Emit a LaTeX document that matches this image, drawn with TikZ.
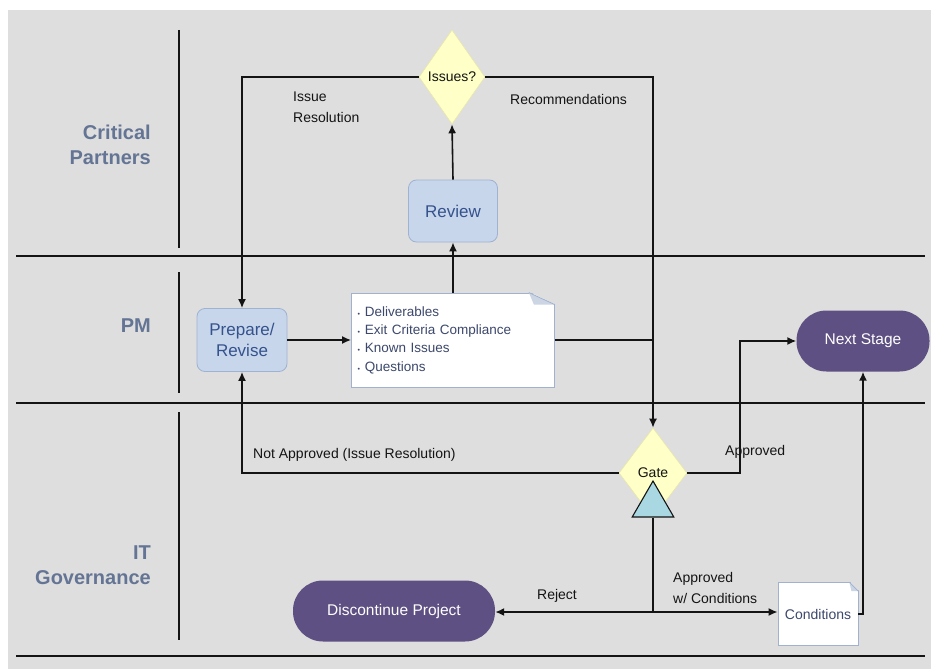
\documentclass[tikz,border=0pt]{standalone}
\usepackage{fontspec}
\setmainfont{Liberation Sans}
\usetikzlibrary{positioning,shapes.geometric,arrows.meta}
\definecolor{gvgrey}{RGB}{222,222,222}
\definecolor{gvlane}{RGB}{100,116,148}
\definecolor{gvboxfill}{RGB}{200,214,236}
\definecolor{gvboxedge}{RGB}{158,178,210}
\definecolor{gvboxtext}{RGB}{52,82,140}
\definecolor{gvyellow}{RGB}{255,255,200}
\definecolor{gvyedge}{RGB}{232,232,170}
\definecolor{gvpurple}{RGB}{94,80,130}
\definecolor{gvnoteedge}{RGB}{160,178,205}
\definecolor{gvnotetext}{RGB}{60,72,108}
\definecolor{gvcyan}{RGB}{170,216,226}
\definecolor{gvtext}{RGB}{20,20,20}

\begin{document}
\begin{tikzpicture}[
    x=1pt, y=-1pt,
    lane/.style={gvtext, line width=1.5pt},
    link/.style={gvtext, line width=1.6pt},
    flow/.style={gvtext, line width=1.6pt, -{Latex[length=9pt,width=8pt]}},
    task/.style={rectangle, rounded corners=8pt, fill=gvboxfill, draw=gvboxedge,
                 line width=0.8pt, text=gvboxtext, font=\fontsize{17}{21}\selectfont,
                 align=center, minimum width=89pt, minimum height=62pt, inner sep=2pt},
    decision/.style={diamond, fill=gvyellow, draw=gvyedge, line width=0.6pt,
                     inner sep=0pt, text=gvtext, font=\fontsize{14}{17}\selectfont},
    terminal/.style={rectangle, rounded corners=30pt, fill=gvpurple, text=white,
                     font=\fontsize{15.5}{18}\selectfont, minimum height=61pt},
    note/.style={rectangle, fill=white, draw=gvnoteedge, line width=0.8pt,
                 text=gvnotetext, align=left},
    gatetri/.style={regular polygon, regular polygon sides=3, fill=gvcyan,
                    draw=gvtext, line width=1.1pt, minimum size=48pt, inner sep=0pt},
    lanelbl/.style={gvlane, font=\fontsize{20}{25}\selectfont\bfseries,
                    align=right, anchor=east, inner sep=0pt},
    lbl/.style={gvtext, font=\fontsize{14}{21}\selectfont, align=left,
                anchor=west, inner sep=0pt},
  ]

  % ---- page and swim lanes ----------------------------------
  \useasboundingbox (0,0) rectangle (931,669);
  \fill[white]  (0,0)  rectangle (931,669);
  \fill[gvgrey] (8,10) rectangle (931,669);

  \draw[lane] (16,256) -- (925,256);
  \draw[lane] (16,403) -- (925,403);
  \draw[lane] (16,656) -- (925,656);
  \draw[lane] (179, 30) -- (179,248);
  \draw[lane] (179,272) -- (179,393);
  \draw[lane] (179,412) -- (179,640);

  \node[lanelbl] (lnCP) at (151,145) {Critical\\Partners};
  \node[lanelbl] (lnPM) at (151,326) {PM};
  \node[lanelbl] (lnIT) at (151,565) {IT\\Governance};

  % ---- steps ------------------------------------------------
  \node[decision, minimum width=66pt, minimum height=94pt] (issues) at (452, 77) {Issues?};
  \node[task] (review) at (453,211) {Review};
  \node[task, minimum width=90pt, minimum height=63pt] (prep) at (242,340) {Prepare/\\Revise};
  \node[note, font=\fontsize{13.5}{18.3}\selectfont, inner sep=6pt, text width=191pt,
        minimum height=94pt] (notes) at (453,340)
        {{\scriptsize\textbullet}\hspace{5pt}Deliverables\\
         {\scriptsize\textbullet}\hspace{5pt}Exit Criteria Compliance\\
         {\scriptsize\textbullet}\hspace{5pt}Known Issues\\
         {\scriptsize\textbullet}\hspace{5pt}Questions};
  \node[terminal, minimum width=133pt] (next) at (863,341) {Next Stage};
  \node[decision, minimum width=68pt, minimum height=90pt] (gate) at (653,473) {\raisebox{-3pt}{Gate}};
  \node[gatetri] (tri) at (653,505) {};
  \node[terminal, minimum width=202pt] (disc) at (394,611) {Discontinue Project};
  \node[note, font=\fontsize{14}{17}\selectfont, inner sep=0pt, minimum width=80pt,
        minimum height=63pt] (cond) at (818,614) {Conditions};

  % ---- dog ears on the notes --------------------------------
  \fill[gvgrey] ([xshift=1pt,yshift=1pt]notes.north east) -- ([xshift=-26pt,yshift=1pt]notes.north east)
                -- ([xshift=1pt,yshift=-12pt]notes.north east) -- cycle;
  \fill[gvnoteedge!55] ([xshift=-26pt]notes.north east) -- ([xshift=-21pt,yshift=-12pt]notes.north east)
                -- ([yshift=-12pt]notes.north east) -- cycle;
  \draw[gvnoteedge, line width=0.8pt] ([xshift=-26pt]notes.north east) -- ([yshift=-12pt]notes.north east);

  \fill[gvgrey] ([xshift=1pt,yshift=1pt]cond.north east) -- ([xshift=-9pt,yshift=1pt]cond.north east)
                -- ([xshift=1pt,yshift=-9pt]cond.north east) -- cycle;
  \fill[gvnoteedge!55] ([xshift=-9pt]cond.north east) -- ([xshift=-7pt,yshift=-9pt]cond.north east)
                -- ([yshift=-9pt]cond.north east) -- cycle;
  \draw[gvnoteedge, line width=0.8pt] ([xshift=-9pt]cond.north east) -- ([yshift=-9pt]cond.north east);

  % ---- connectors -------------------------------------------
  \coordinate (apx)   at (740,473);   % bend of the approved line
  \coordinate (split) at (653,612);   % fork below the gate

  \draw[flow] (issues.west) -| (prep.north);
  \draw[flow] (issues.east) -| (gate.north);
  \draw[flow] (review.north) -- (issues.south);
  \draw[flow] (notes.north) -- (review.south);
  \draw[flow] (prep.east) -- (prep.east -| notes.west);
  \draw[link] (notes.east) -- (notes.east -| gate.north);
  \draw[flow] (gate.west) -| (prep.south);
  \draw[flow] (gate.east) -- (apx) |- (next.west);
  \draw[link] (tri.south) -- (split);
  \draw[flow] (split) -- (split -| disc.east);
  \draw[flow] (split) -- (split -| cond.west);
  \draw[flow] (cond.east) -| (next.south);

  % ---- labels -----------------------------------------------
  \node[lbl] (lRes)  at (293,107) {Issue\\Resolution};
  \node[lbl] (lRec)  at (510, 99) {Recommendations};
  \node[lbl] (lNot)  at (253,455) {Not Approved (Issue Resolution)};
  \node[lbl] (lApp)  at (725,452) {Approved};
  \node[lbl] (lRej)  at (537,596) {Reject};
  \node[lbl] (lCond) at (673,588) {Approved\\w/ Conditions};

\end{tikzpicture}
\end{document}
